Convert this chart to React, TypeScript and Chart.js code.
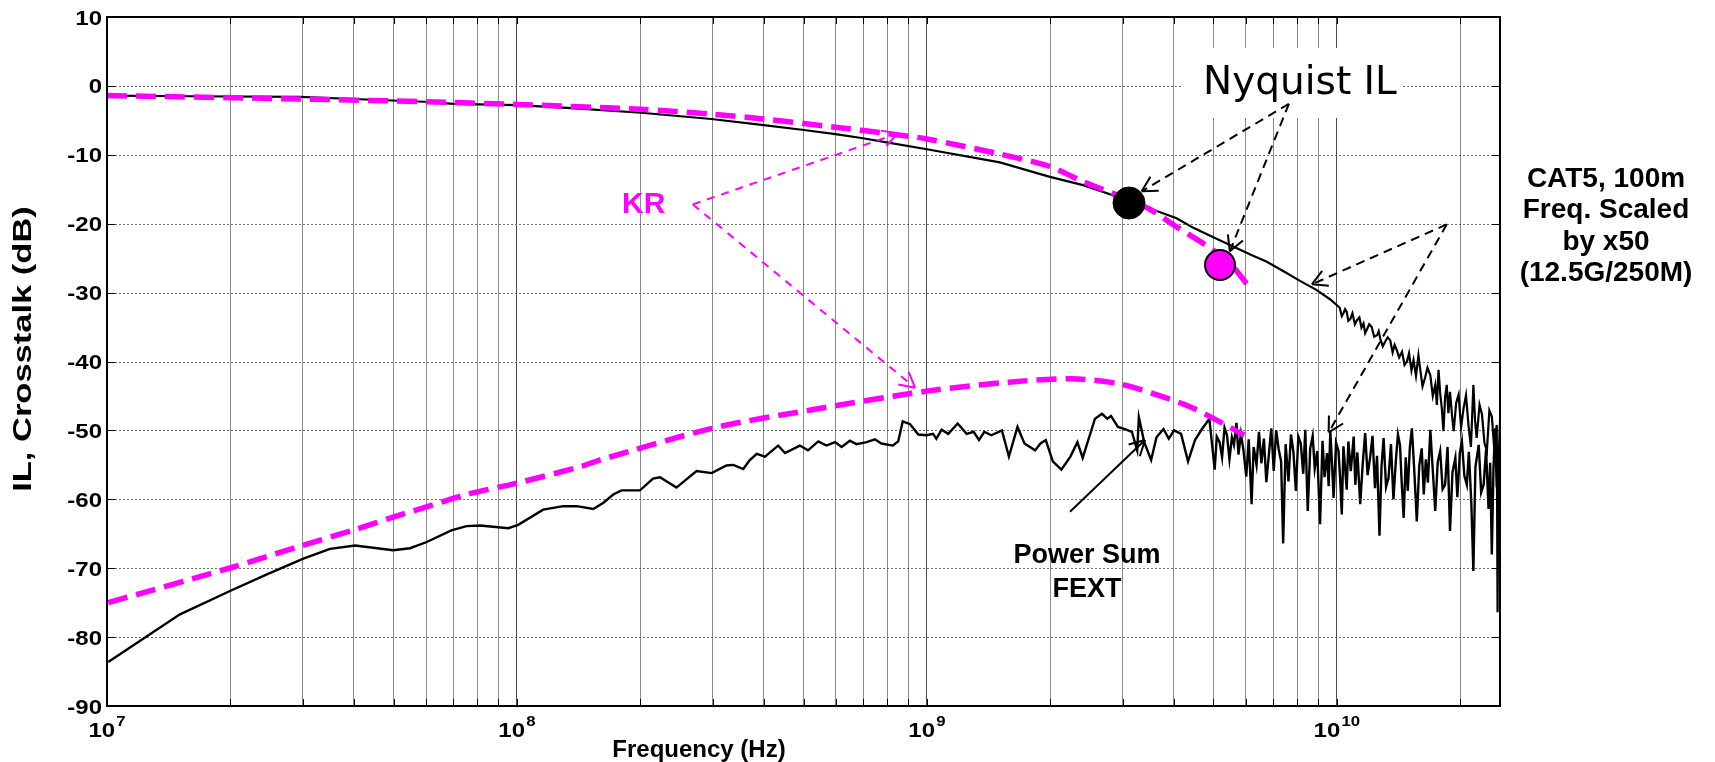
import React, { useEffect, useRef } from 'react';
import { Chart, registerables } from 'chart.js';

Chart.register(...registerables);

// ---------- axes ----------
const X_MIN = 1e7;
const X_MAX = 2.5e10;
const Y_MIN = -90;
const Y_MAX = 10;
const yTickValues = [10, 0, -10, -20, -30, -40, -50, -60, -70, -80, -90];
const xDecades = [1e7, 1e8, 1e9, 1e10];
const xDecadeExponents = ['7', '8', '9', '10'];
const xMinorMultipliers = [2, 3, 4, 5, 6, 7, 8, 9];

// ---------- series: [log10(frequency in Hz), dB] ----------
const ilPoints: [number, number][] = [
  [7.0, -1.4], [7.2, -1.5], [7.47, -1.6], [7.6, -1.9], [7.775, -2.3], [7.845, -2.6], [8.0, -2.8],
  [8.123, -3.2], [8.303, -3.9], [8.474, -4.8], [8.602, -5.7], [8.7, -6.4], [8.777, -7.0],
  [8.844, -7.6], [8.902, -8.2], [9.0, -9.2], [9.178, -11.1], [9.3, -13.2], [9.381, -14.4],
  [9.45, -15.8], [9.493, -17.0], [9.544, -17.8], [9.609, -19.2], [9.65, -20.6], [9.7, -22.0],
  [9.747, -23.3], [9.79, -24.5], [9.828, -25.5], [9.87, -26.9], [9.91, -28.3], [9.95, -29.6],
  [9.984, -31.0], [10.007, -32.2], [10.012, -33.4], [10.016, -33.0], [10.02, -32.4], [10.024, -32.8],
  [10.028, -34.1], [10.033, -33.8], [10.038, -33.0], [10.044, -34.6], [10.049, -34.0], [10.055, -33.6],
  [10.06, -35.1], [10.065, -34.5], [10.069, -35.9], [10.073, -35.4], [10.079, -34.6], [10.085, -35.0],
  [10.091, -36.4], [10.098, -36.2], [10.102, -35.6], [10.106, -36.7], [10.112, -37.8], [10.118, -37.1],
  [10.124, -36.5], [10.13, -36.9], [10.136, -38.7], [10.141, -37.6], [10.146, -38.3], [10.152, -39.4],
  [10.159, -38.6], [10.165, -40.5], [10.171, -40.0], [10.176, -38.8], [10.182, -41.3], [10.187, -39.8],
  [10.193, -42.1], [10.199, -39.1], [10.203, -41.0], [10.209, -43.6], [10.215, -42.4], [10.221, -40.9],
  [10.228, -42.0], [10.234, -45.0], [10.24, -43.4], [10.244, -46.3], [10.248, -41.2], [10.252, -44.6],
  [10.256, -46.8], [10.26, -50.1], [10.264, -45.2], [10.268, -43.4], [10.272, -47.5], [10.276, -44.4],
  [10.281, -47.9], [10.285, -50.1], [10.291, -46.0], [10.297, -44.8], [10.303, -49.6], [10.309, -46.8],
  [10.315, -44.9], [10.321, -49.2], [10.327, -52.4], [10.333, -43.4], [10.337, -48.5], [10.341, -51.1],
  [10.348, -46.3], [10.354, -47.7], [10.36, -51.8], [10.366, -53.0], [10.372, -47.1], [10.378, -48.0],
  [10.384, -52.7], [10.39, -49.2], [10.392, -76.4], [10.394, -55.0], [10.398, -48.7], [10.402, -50.1],
];

const krIlPoints: [number, number][] = [
  [7.0, -1.4], [7.47, -1.9], [7.775, -2.3], [8.0, -2.7], [8.303, -3.4], [8.474, -4.1], [8.602, -4.8],
  [8.777, -6.0], [8.902, -6.9], [9.0, -7.7], [9.178, -9.9], [9.3, -11.7], [9.381, -13.9], [9.45, -15.5],
  [9.493, -16.6], [9.544, -17.9], [9.61, -20.5], [9.69, -23.5], [9.74, -25.8], [9.78, -28.7],
];

const fextPoints: [number, number][] = [
  [7.003, -83.6], [7.178, -76.7], [7.304, -73.2], [7.39, -70.9], [7.479, -68.6], [7.544, -67.2],
  [7.605, -66.7], [7.698, -67.4], [7.739, -67.1], [7.78, -66.2], [7.84, -64.5], [7.877, -63.9],
  [7.91, -63.8], [7.979, -64.2], [8.003, -63.7], [8.064, -61.5], [8.113, -61.0], [8.146, -61.0],
  [8.186, -61.4], [8.211, -60.5], [8.235, -59.3], [8.255, -58.7], [8.3, -58.7], [8.332, -57.0],
  [8.349, -56.8], [8.389, -58.3], [8.438, -55.9], [8.475, -56.2], [8.511, -55.1], [8.528, -55.0],
  [8.552, -55.6], [8.568, -54.3], [8.585, -53.4], [8.605, -53.8], [8.637, -52.2], [8.654, -53.3],
  [8.69, -52.2], [8.71, -52.9], [8.735, -51.6], [8.755, -52.2], [8.776, -51.7], [8.792, -52.4],
  [8.812, -51.5], [8.828, -52.0], [8.853, -51.7], [8.873, -51.3], [8.889, -51.9], [8.917, -52.2],
  [8.93, -51.6], [8.941, -48.7], [8.959, -49.1], [8.979, -50.6], [8.999, -50.7], [9.015, -50.5],
  [9.023, -51.2], [9.036, -49.9], [9.052, -50.5], [9.075, -49.0], [9.097, -50.5], [9.114, -50.2],
  [9.127, -51.4], [9.14, -50.2], [9.157, -50.7], [9.183, -50.0], [9.2, -53.8], [9.221, -49.5],
  [9.238, -51.9], [9.264, -52.9], [9.277, -51.9], [9.29, -51.4], [9.307, -54.5], [9.328, -55.7],
  [9.35, -53.8], [9.367, -51.7], [9.38, -54.0], [9.41, -48.3], [9.427, -47.6], [9.44, -48.3],
  [9.449, -47.9], [9.466, -49.5], [9.483, -49.8], [9.5, -50.2], [9.513, -52.9], [9.517, -48.1],
  [9.53, -51.7], [9.547, -54.3], [9.56, -51.0], [9.577, -49.8], [9.59, -51.2], [9.603, -50.0],
  [9.62, -50.5], [9.637, -54.5], [9.654, -51.4], [9.671, -49.8], [9.689, -48.3], [9.702, -55.7],
  [9.707, -50.9], [9.714, -51.7], [9.72, -53.9], [9.726, -49.6], [9.732, -50.7], [9.738, -54.2],
  [9.744, -51.0], [9.749, -52.1], [9.755, -48.9], [9.76, -53.5], [9.766, -50.5], [9.772, -52.8],
  [9.779, -56.7], [9.785, -51.3], [9.792, -60.7], [9.797, -52.4], [9.804, -55.0], [9.81, -50.2],
  [9.816, -54.8], [9.822, -51.2], [9.828, -57.5], [9.834, -53.6], [9.84, -49.7], [9.846, -55.9],
  [9.852, -50.0], [9.858, -52.7], [9.864, -54.5], [9.869, -66.4], [9.875, -52.0], [9.882, -57.4],
  [9.888, -50.6], [9.894, -53.1], [9.9, -58.8], [9.906, -50.9], [9.912, -51.9], [9.918, -56.3],
  [9.923, -49.9], [9.929, -61.7], [9.935, -52.6], [9.941, -50.8], [9.946, -55.5], [9.952, -53.0],
  [9.959, -63.6], [9.965, -51.5], [9.97, -56.8], [9.976, -53.3], [9.98, -58.1], [9.984, -50.1],
  [9.988, -54.6], [9.992, -59.8], [9.998, -51.8], [10.004, -53.0], [10.008, -57.0], [10.012, -62.2],
  [10.016, -52.3], [10.02, -55.4], [10.024, -58.6], [10.028, -51.6], [10.034, -55.9], [10.041, -50.9],
  [10.045, -57.9], [10.05, -53.2], [10.057, -60.7], [10.063, -54.9], [10.069, -50.4], [10.075, -56.5],
  [10.081, -54.0], [10.087, -50.8], [10.093, -58.4], [10.098, -53.7], [10.104, -65.3], [10.109, -55.2],
  [10.114, -51.1], [10.12, -58.2], [10.126, -56.9], [10.132, -52.0], [10.138, -60.0], [10.144, -54.3],
  [10.149, -50.6], [10.154, -52.1], [10.158, -57.4], [10.163, -62.7], [10.168, -53.9], [10.173, -58.8],
  [10.178, -52.5], [10.183, -49.7], [10.189, -56.0], [10.195, -63.2], [10.201, -55.1], [10.207, -52.6],
  [10.212, -59.3], [10.217, -54.2], [10.222, -57.6], [10.228, -49.9], [10.234, -55.8], [10.24, -61.7],
  [10.246, -54.6], [10.252, -53.0], [10.258, -58.5], [10.264, -57.9], [10.27, -52.4], [10.276, -64.6],
  [10.282, -56.1], [10.289, -54.0], [10.294, -59.7], [10.3, -53.3], [10.305, -51.6], [10.311, -56.6],
  [10.317, -57.9], [10.322, -53.1], [10.328, -60.6], [10.333, -70.4], [10.338, -55.3], [10.346, -52.1],
  [10.352, -59.0], [10.358, -57.9], [10.364, -52.8], [10.37, -61.4], [10.374, -54.7], [10.378, -68.0],
  [10.382, -55.6], [10.386, -49.7], [10.39, -58.3], [10.394, -53.9], [10.398, -60.2], [10.402, -53.0],
];

const krFextPoints: [number, number][] = [
  [7.003, -75.0], [7.304, -69.9], [7.471, -66.8], [7.605, -64.4], [7.698, -62.6], [7.796, -60.8],
  [7.877, -59.3], [8.003, -57.6], [8.158, -55.2], [8.202, -54.3], [8.476, -49.7], [8.72, -47.0],
  [9.0, -44.3], [9.2, -43.0], [9.35, -42.5], [9.466, -43.2], [9.569, -45.0], [9.654, -46.9], [9.774, -50.7],
];

const nyquistIlPoint: [number, number][] = [[9.493, -17.0]];
const nyquistKrPoint: [number, number][] = [[9.715, -26.0]];

const rightNoteLines = ['CAT5, 100m', 'Freq. Scaled', 'by x50', '(12.5G/250M)'];

const toXY = (pts: [number, number][]) => pts.map(([lf, db]) => ({ x: Math.pow(10, lf), y: db }));

const ARIAL = "'Liberation Sans', Arial, Helvetica, sans-serif";
const MAGENTA = '#ff00ff';

function drawArrow(ctx: any, x1: number, y1: number, x2: number, y2: number, color: string, dash: number[]) {
  ctx.save();
  ctx.strokeStyle = color;
  ctx.lineWidth = 2;
  ctx.setLineDash(dash);
  ctx.beginPath();
  ctx.moveTo(x1, y1);
  ctx.lineTo(x2, y2);
  ctx.stroke();
  ctx.setLineDash([]);
  const a = Math.atan2(y2 - y1, x2 - x1);
  const L = 17;
  ctx.beginPath();
  for (const s of [-1, 1]) {
    ctx.moveTo(x2, y2);
    ctx.lineTo(x2 - L * Math.cos(a + s * 0.5), y2 - L * Math.sin(a + s * 0.5));
  }
  ctx.stroke();
  ctx.restore();
}

const annotationPlugin = {
  id: 'annotations',
  beforeDatasetsDraw(chart: any) {
    const { ctx, chartArea: a, scales } = chart;
    const ys = scales.y;
    ctx.save();
    ctx.strokeStyle = '#6e6e6e';
    ctx.lineWidth = 1;
    ctx.setLineDash([2, 2]);
    for (const v of yTickValues) {
      if (v === Y_MIN || v === Y_MAX) continue;
      const y = Math.round(ys.getPixelForValue(v)) + 0.5;
      ctx.beginPath();
      ctx.moveTo(a.left, y);
      ctx.lineTo(a.right, y);
      ctx.stroke();
    }
    ctx.setLineDash([]);
    // white label box for "Nyquist IL"
    ctx.fillStyle = '#ffffff';
    ctx.fillRect(1183, 48, 219, 70);
    ctx.fillStyle = '#000';
    ctx.font = "39px 'DejaVu Sans', Verdana, sans-serif";
    ctx.textAlign = 'left';
    ctx.textBaseline = 'alphabetic';
    ctx.fillText('Nyquist IL', 1203, 94);
    ctx.restore();
  },
  afterDatasetsDraw(chart: any) {
    const { ctx, chartArea: a, scales } = chart;
    const xs = scales.x;
    const ys = scales.y;
    const P = (lf: number, db: number) => [xs.getPixelForValue(Math.pow(10, lf)), ys.getPixelForValue(db)];

    // arrows
    const ny0 = P(9.883, -2.6);
    const ny1 = P(9.524, -15.3);
    const ny2 = P(9.739, -24.0);
    drawArrow(ctx, ny0[0], ny0[1], ny1[0], ny1[1], '#000', [9, 6]);
    drawArrow(ctx, ny0[0], ny0[1], ny2[0], ny2[1], '#000', [9, 6]);
    const c0 = P(10.268, -20.1);
    const c1 = P(9.939, -28.8);
    const c2 = P(9.98, -50.3);
    drawArrow(ctx, c0[0], c0[1], c1[0], c1[1], '#000', [9, 6]);
    drawArrow(ctx, c0[0], c0[1], c2[0], c2[1], '#000', [9, 6]);
    const k0 = P(8.429, -17.2);
    const k1 = P(8.929, -6.9);
    const k2 = P(8.971, -43.8);
    drawArrow(ctx, k0[0], k0[1], k1[0], k1[1], MAGENTA, [8, 7]);
    drawArrow(ctx, k0[0], k0[1], k2[0], k2[1], MAGENTA, [8, 7]);
    const p0 = P(9.349, -61.8);
    const p1 = P(9.532, -51.4);
    drawArrow(ctx, p0[0], p0[1], p1[0], p1[1], '#000', []);

    ctx.save();
    // KR label
    ctx.fillStyle = MAGENTA;
    ctx.font = `bold 30px ${ARIAL}`;
    ctx.textAlign = 'left';
    ctx.textBaseline = 'alphabetic';
    ctx.fillText('KR', 622, 213);

    // Power Sum FEXT
    ctx.fillStyle = '#000';
    ctx.font = `bold 27px ${ARIAL}`;
    ctx.textAlign = 'center';
    ctx.fillText('Power Sum', 1087, 563);
    ctx.fillText('FEXT', 1087, 597);

    // right side note
    ctx.font = `bold 28px ${ARIAL}`;
    const noteBase = [187, 218, 250, 281];
    rightNoteLines.forEach((t, i) => ctx.fillText(t, 1606, noteBase[i]));

    // frame
    ctx.strokeStyle = '#000';
    ctx.lineWidth = 2;
    ctx.strokeRect(a.left, a.top, a.right - a.left, a.bottom - a.top);

    // inward tick marks
    ctx.lineWidth = 1;
    ctx.beginPath();
    for (const v of yTickValues) {
      const y = Math.round(ys.getPixelForValue(v)) + 0.5;
      ctx.moveTo(a.left, y);
      ctx.lineTo(a.left + 8, y);
      ctx.moveTo(a.right - 8, y);
      ctx.lineTo(a.right, y);
    }
    for (const t of xs.ticks) {
      const x = Math.round(xs.getPixelForValue(t.value)) + 0.5;
      ctx.moveTo(x, a.bottom);
      ctx.lineTo(x, a.bottom - 7);
      ctx.moveTo(x, a.top);
      ctx.lineTo(x, a.top + 7);
    }
    ctx.stroke();

    // y tick labels (widened like the original)
    ctx.fillStyle = '#000';
    ctx.font = `bold 20px ${ARIAL}`;
    ctx.textAlign = 'right';
    ctx.textBaseline = 'alphabetic';
    for (const v of yTickValues) {
      const y = ys.getPixelForValue(v);
      ctx.save();
      ctx.translate(a.left - 5, y + 7.5);
      ctx.scale(1.2, 1);
      ctx.fillText(String(v), 0, 0);
      ctx.restore();
    }

    // x tick labels 10^n
    xDecades.forEach((d, i) => {
      const x = xs.getPixelForValue(d);
      ctx.font = `bold 20px ${ARIAL}`;
      const wBase = ctx.measureText('10').width;
      ctx.font = `bold 14px ${ARIAL}`;
      const wExp = ctx.measureText(xDecadeExponents[i]).width;
      const total = (wBase + wExp + 1) * 1.2;
      ctx.save();
      ctx.translate(x - total / 2, 737);
      ctx.scale(1.2, 1);
      ctx.textAlign = 'left';
      ctx.font = `bold 20px ${ARIAL}`;
      ctx.fillText('10', 0, 0);
      ctx.font = `bold 14px ${ARIAL}`;
      ctx.fillText(xDecadeExponents[i], wBase + 1, -11);
      ctx.restore();
    });

    // axis titles
    ctx.font = `bold 24px ${ARIAL}`;
    ctx.textAlign = 'center';
    ctx.fillText('Frequency (Hz)', 699, 757);
    ctx.save();
    ctx.translate(24, 349);
    ctx.rotate(-Math.PI / 2);
    ctx.font = `bold 25px ${ARIAL}`;
    ctx.scale(1.38, 1);
    ctx.textBaseline = 'middle';
    ctx.fillText('IL, Crosstalk (dB)', 0, 0);
    ctx.restore();

    ctx.restore();
  },
};

const xGridValues = xDecades
  .flatMap((d) => [d, ...xMinorMultipliers.map((m) => m * d)])
  .filter((v) => v >= X_MIN && v <= X_MAX);

export default function App() {
  const canvasRef = useRef<HTMLCanvasElement | null>(null);

  useEffect(() => {
    if (!canvasRef.current) return;
    const chart = new Chart(canvasRef.current, {
      type: 'line',
      data: {
        datasets: [
          {
            label: 'Nyquist IL point',
            data: toXY(nyquistIlPoint),
            showLine: false,
            pointRadius: 16,
            pointBackgroundColor: '#000',
            pointBorderColor: '#000',
            pointBorderWidth: 1,
            order: 0,
          },
          {
            label: 'Nyquist KR point',
            data: toXY(nyquistKrPoint),
            showLine: false,
            pointRadius: 15,
            pointBackgroundColor: MAGENTA,
            pointBorderColor: '#000',
            pointBorderWidth: 2,
            order: 0,
          },
          {
            label: 'KR IL',
            data: toXY(krIlPoints),
            borderColor: MAGENTA,
            borderWidth: 5.5,
            borderDash: [20, 9],
            pointRadius: 0,
            tension: 0.3,
            fill: false,
            order: 1,
          },
          {
            label: 'KR FEXT',
            data: toXY(krFextPoints),
            borderColor: MAGENTA,
            borderWidth: 5.5,
            borderDash: [20, 9],
            pointRadius: 0,
            tension: 0.3,
            fill: false,
            order: 1,
          },
          {
            label: 'IL',
            data: toXY(ilPoints),
            borderColor: '#000',
            borderWidth: 2.2,
            pointRadius: 0,
            tension: 0,
            fill: false,
            order: 2,
          },
          {
            label: 'Power Sum FEXT',
            data: toXY(fextPoints),
            borderColor: '#000',
            borderWidth: 2.4,
            pointRadius: 0,
            tension: 0,
            fill: false,
            order: 2,
          },
        ],
      },
      options: {
        animation: false,
        responsive: true,
        maintainAspectRatio: false,
        events: [],
        layout: { padding: { top: 15, right: 215, left: 0, bottom: 0 } },
        plugins: {
          legend: { display: false },
          tooltip: { enabled: false },
          title: { display: false },
        },
        scales: {
          x: {
            type: 'logarithmic',
            min: X_MIN,
            max: X_MAX,
            afterBuildTicks: (s: any) => {
              s.ticks = xGridValues.map((v) => ({ value: v }));
            },
            afterFit: (s: any) => {
              s.height = 56;
              s.paddingLeft = 0;
              s.paddingRight = 0;
            },
            ticks: { display: false },
            grid: {
              drawTicks: false,
              lineWidth: 1,
              color: (c: any) => {
                const v = c.tick ? c.tick.value : 0;
                return xDecades.includes(v) ? '#4a4a4a' : '#8a8a8a';
              },
            },
            border: { display: false },
          },
          y: {
            type: 'linear',
            min: Y_MIN,
            max: Y_MAX,
            ticks: { display: false, stepSize: 10 },
            afterFit: (s: any) => {
              s.width = 107;
              s.paddingTop = 0;
              s.paddingBottom = 0;
            },
            grid: { display: false },
            border: { display: false },
          },
        },
      },
      plugins: [annotationPlugin],
    } as any);
    return () => chart.destroy();
  }, []);

  return (
    <div style={{ position: 'fixed', left: 0, top: 0, width: 1715, height: 762, background: '#fff' }}>
      <canvas ref={canvasRef} />
    </div>
  );
}
